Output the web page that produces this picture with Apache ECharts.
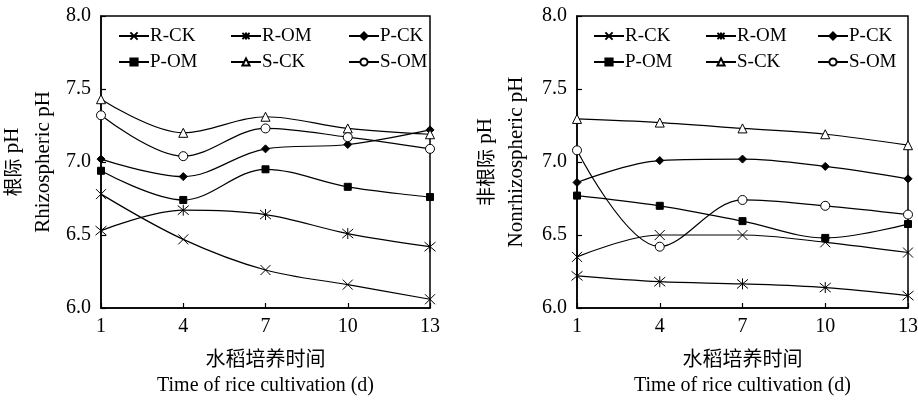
<!DOCTYPE html>
<html>
<head>
<meta charset="utf-8">
<script src="https://cdn.jsdelivr.net/npm/echarts@6/dist/echarts.min.js"></script>
<style>
html,body{margin:0;padding:0;background:#fff;}
#c{width:918px;height:400px;}
</style>
</head>
<body>
<div id="c"></div>
<script>
// ---- data ----
var days = [1, 4, 7, 10, 13];
var seriesNames = ['R-CK', 'R-OM', 'P-CK', 'P-OM', 'S-CK', 'S-OM'];
var yTicks = [6.0, 6.5, 7.0, 7.5, 8.0];

// Rhizospheric pH (left panel)
var rhizoRCK = [6.78, 6.47, 6.26, 6.16, 6.06];
var rhizoROM = [6.53, 6.67, 6.64, 6.51, 6.42];
var rhizoPCK = [7.02, 6.90, 7.09, 7.12, 7.22];
var rhizoPOM = [6.94, 6.74, 6.95, 6.83, 6.76];
var rhizoSCK = [7.43, 7.20, 7.31, 7.23, 7.19];
var rhizoSOM = [7.32, 7.04, 7.23, 7.17, 7.09];

// Nonrhizospheric pH (right panel)
var nonRCK = [6.35, 6.50, 6.50, 6.45, 6.38];
var nonROM = [6.22, 6.18, 6.165, 6.14, 6.085];
var nonPCK = [6.86, 7.01, 7.02, 6.97, 6.885];
var nonPOM = [6.77, 6.70, 6.595, 6.48, 6.575];
var nonSCK = [7.295, 7.27, 7.23, 7.19, 7.115];
var nonSOM = [7.08, 6.42, 6.74, 6.70, 6.64];

// ---- styling ----
var SERIF = '"Liberation Serif","Times New Roman",serif';
var CJK = '"Noto Sans CJK SC",sans-serif';
var symbolDefs = {
  'R-CK': {symbol: 'path://M0,0L10,10M10,0L0,10', size: 10, fill: '#000'},
  'R-OM': {symbol: 'path://M0,1L10,11M10,1L0,11M5,0L5,12', size: 11, fill: '#000'},
  'P-CK': {symbol: 'diamond', size: 8, fill: '#000'},
  'P-OM': {symbol: 'rect', size: 7, fill: '#000'},
  'S-CK': {symbol: 'triangle', size: 9, fill: '#fff'},
  'S-OM': {symbol: 'circle', size: 9, fill: '#fff'}
};

var leftData = [rhizoRCK, rhizoROM, rhizoPCK, rhizoPOM, rhizoSCK, rhizoSOM];
var rightData = [nonRCK, nonROM, nonPCK, nonPOM, nonSCK, nonSOM];

function pairs(vals) {
  return days.map(function (d, i) { return [d, vals[i]]; });
}

function mkSeries(name, vals, idx) {
  var s = symbolDefs[name];
  return {
    name: name,
    type: 'line',
    xAxisIndex: idx,
    yAxisIndex: idx,
    data: pairs(vals),
    smooth: 0.35,
    symbol: s.symbol,
    symbolSize: s.size,
    showAllSymbol: true,
    lineStyle: {color: '#000', width: 1.2},
    itemStyle: {color: s.fill, borderColor: '#000', borderWidth: 1},
    emphasis: {disabled: true}
  };
}

var series = [];
seriesNames.forEach(function (n, i) { series.push(mkSeries(n, leftData[i], 0)); });
seriesNames.forEach(function (n, i) { series.push(mkSeries(n, rightData[i], 1)); });

function mkX(gi) {
  return {
    type: 'value', gridIndex: gi, min: 1, max: 13, interval: 3,
    axisLine: {lineStyle: {color: '#000', width: 1.5}},
    axisTick: {inside: true, length: 5, lineStyle: {color: '#000', width: 1.2}},
    axisLabel: {color: '#000', fontFamily: SERIF, fontSize: 20, margin: 9},
    splitLine: {show: false},
    name: '{zh|水稻培养时间}\n{en|Time of rice cultivation (d)}',
    nameLocation: 'middle',
    nameGap: 36,
    nameTextStyle: {
      color: '#000',
      rich: {
        zh: {fontFamily: CJK, fontSize: 20, color: '#000', lineHeight: 28},
        en: {fontFamily: SERIF, fontSize: 20, color: '#000', lineHeight: 28}
      }
    }
  };
}

function mkY(gi, zh, en, gap) {
  return {
    type: 'value', gridIndex: gi, min: yTicks[0], max: yTicks[yTicks.length - 1], interval: 0.5,
    axisLine: {show: true, lineStyle: {color: '#000', width: 1.5}},
    axisTick: {show: true, inside: true, length: 5, lineStyle: {color: '#000', width: 1.2}},
    axisLabel: {color: '#000', fontFamily: SERIF, fontSize: 20, margin: 10,
      formatter: function (v) { return v.toFixed(1); }},
    splitLine: {show: false},
    name: '{zh|' + zh + '}{en| pH}\n{en|' + en + '}',
    nameLocation: 'middle',
    nameRotate: 90,
    nameGap: gap,
    nameTextStyle: {
      color: '#000',
      rich: {
        zh: {fontFamily: CJK, fontSize: 19, color: '#000', lineHeight: 31},
        en: {fontFamily: SERIF, fontSize: 21, color: '#000', lineHeight: 31}
      }
    }
  };
}

// legend positions: [left, top] for each item per panel
var legendCols = [[118, 230, 348], [593, 705, 817]];
var legendRows = [26, 52];
var legends = [];
[0, 1].forEach(function (p) {
  seriesNames.forEach(function (n, i) {
    legends.push({
      data: [n],
      left: legendCols[p][i % 3],
      top: legendRows[Math.floor(i / 3)],
      padding: 0,
      itemWidth: 30,
      itemHeight: 9,
      itemGap: 0,
      selectedMode: false,
      textStyle: {fontFamily: SERIF, fontSize: 19, color: '#000', padding: [0, 0, 0, -4], lineHeight: 20}
    });
  });
});

var chart = echarts.init(document.getElementById('c'), null, {renderer: 'canvas'});
chart.setOption({
  animation: false,
  backgroundColor: '#fff',
  grid: [
    {left: 101, right: 488, top: 16, bottom: 92, outerBoundsMode: 'none', containLabel: false, show: true, borderColor: '#000', borderWidth: 1.5, backgroundColor: 'transparent'},
    {left: 577, right: 10, top: 16, bottom: 92, outerBoundsMode: 'none', containLabel: false, show: true, borderColor: '#000', borderWidth: 1.5, backgroundColor: 'transparent'}
  ],
  xAxis: [mkX(0), mkX(1)],
  yAxis: [mkY(0, '根际', 'Rhizospheric pH', 42), mkY(1, '非根际', 'Nonrhizospheric pH', 45)],
  legend: legends,
  series: series
});
</script>
</body>
</html>
